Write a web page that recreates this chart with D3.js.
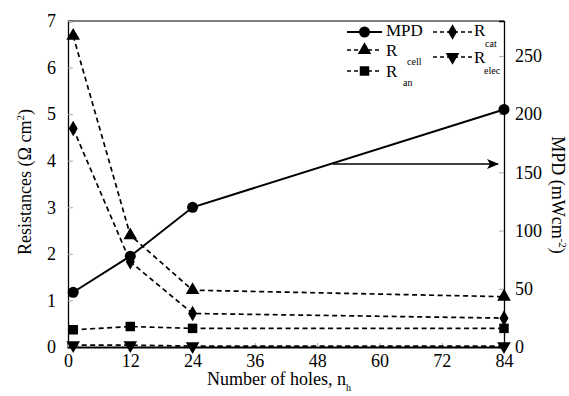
<!DOCTYPE html>
<html><head><meta charset="utf-8">
<script src="https://cdn.jsdelivr.net/npm/d3@7"></script>
<style>body{margin:0;background:#fff}svg{display:block}</style>
</head><body><svg id="c" width="569" height="396" font-family="Liberation Serif"></svg>
<script>
const holes = [1, 12, 24, 84];
const mpd = [47, 78, 120, 204];
const rCell = [6.68, 2.4, 1.22, 1.08];
const rCat = [4.69, 1.83, 0.72, 0.62];
const rAn = [0.37, 0.44, 0.40, 0.40];
const rElec = [0.04, 0.04, 0.02, 0.02];
const xTicks = [0, 12, 24, 36, 48, 60, 72, 84];
const yLeftTicks = [0, 1, 2, 3, 4, 5, 6, 7];
const yRightTicks = [0, 50, 100, 150, 200, 250];

const FONT = "Liberation Serif";
const svg = d3.select("#c");
const L = 68, R = 504, T = 21, B = 347;
const x = d3.scaleLinear().domain([0, 84]).range([L, R]);
const yL = d3.scaleLinear().domain([0, 7]).range([B, T]);
const yR = d3.scaleLinear().domain([0, 280]).range([B, T]);

svg.append("line").attr("x1", L).attr("x2", R).attr("y1", T).attr("y2", T).attr("stroke", "#000").attr("stroke-width", 1);

const gl = svg.append("g").attr("transform", `translate(${L},0)`)
  .call(d3.axisLeft(yL).tickValues(yLeftTicks).tickSize(-5).tickPadding(12).tickFormat(d3.format("d")));
const gr = svg.append("g").attr("transform", `translate(${R},0)`)
  .call(d3.axisRight(yR).tickValues(yRightTicks).tickSize(-5).tickPadding(11));
const gb = svg.append("g").attr("transform", `translate(0,${B})`)
  .call(d3.axisBottom(x).tickValues(xTicks).tickSize(-4).tickPadding(7));
[gl, gr, gb].forEach(g => {
  g.attr("font-family", FONT);
  g.select(".domain").attr("stroke", "#000").attr("stroke-width", 1.3);
  g.selectAll(".tick line").attr("stroke", "#aaa");
  g.selectAll(".tick text").attr("font-size", 18).attr("font-family", FONT).attr("fill", "#000");
});
gb.select(".domain").attr("stroke-width", 1.8);

function txt() { return svg.append("text").attr("font-family", FONT).attr("fill", "#000"); }
txt().attr("transform", "translate(31,182) rotate(-90)").attr("text-anchor", "middle").attr("font-size", 18)
  .html('Resistances (Ω cm<tspan dy="-7" font-size="11">2</tspan><tspan dy="7">)</tspan>');
txt().attr("transform", "translate(552,195) rotate(90)").attr("text-anchor", "middle").attr("font-size", 18)
  .html('MPD (mWcm<tspan dy="-7" font-size="11">-2</tspan><tspan dy="7">)</tspan>');
txt().attr("x", 207).attr("y", 385).attr("font-size", 18)
  .html('Number of holes, n<tspan dy="6" font-size="10">h</tspan>');

const dash = "5,3.5";
function series(vals, scale, dashed, marker) {
  const line = d3.line().x((d, i) => x(holes[i])).y(d => scale(d));
  svg.append("path").datum(vals).attr("d", line).attr("fill", "none").attr("stroke", "#000")
    .attr("stroke-width", dashed ? 1.7 : 2).attr("stroke-dasharray", dashed ? dash : null);
  svg.selectAll(null).data(vals).enter().append("path")
    .attr("transform", (d, i) => `translate(${x(holes[i])},${scale(d)})${marker.rot || ""}`)
    .attr("d", d3.symbol().type(marker.type).size(marker.size)).attr("fill", "#000");
}
const mCell = {type: d3.symbolTriangle, size: 80};
const mCat = {type: d3.symbolDiamond, size: 70};
const mAn = {type: d3.symbolSquare, size: 90};
const mElec = {type: d3.symbolTriangle, size: 80, rot: " rotate(180)"};
const mMpd = {type: d3.symbolCircle, size: 95};

series(rElec, yL, true, mElec);
series(rAn, yL, true, mAn);
series(rCat, yL, true, mCat);
series(rCell, yL, true, mCell);
series(mpd, yR, false, mMpd);

svg.append("defs").append("marker").attr("id", "ah").attr("viewBox", "0 0 12 10").attr("refX", 11).attr("refY", 5)
  .attr("markerWidth", 12).attr("markerHeight", 10).attr("markerUnits", "userSpaceOnUse").attr("orient", "auto")
  .append("path").attr("d", "M0,0 L12,5 L0,10 L3,5 Z").attr("fill", "#000");
svg.append("line").attr("x1", 333).attr("x2", 498).attr("y1", 164).attr("y2", 164).attr("stroke", "#000").attr("stroke-width", 1.3).attr("marker-end", "url(#ah)");

function legItem(x1, x2, y, dashed, marker) {
  svg.append("line").attr("x1", x1).attr("x2", x2).attr("y1", y).attr("y2", y).attr("stroke", "#000")
    .attr("stroke-width", dashed ? 1.5 : 2).attr("stroke-dasharray", dashed ? "4,3" : null);
  svg.append("path").attr("transform", `translate(${(x1 + x2) / 2},${y})${marker.rot || ""}`)
    .attr("d", d3.symbol().type(marker.type).size(marker.size)).attr("fill", "#000");
}
legItem(347, 382, 32, false, mMpd);
legItem(347, 382, 50, true, mCell);
legItem(347, 382, 71, true, mAn);
legItem(433, 472, 32, true, mCat);
legItem(433, 472, 57, true, mElec);
const legTxt = [["MPD", 386, 36, 17], ["R", 386, 55.5, 17], ["cell", 407, 65, 10], ["R", 386, 77, 17], ["an", 403, 86, 10],
  ["R", 474, 36, 17], ["cat", 485, 47, 10], ["R", 474, 63, 17], ["elec", 484, 74, 10]];
legTxt.forEach(t => txt().attr("x", t[1]).attr("y", t[2]).attr("font-size", t[3]).text(t[0]));
</script></body></html>
